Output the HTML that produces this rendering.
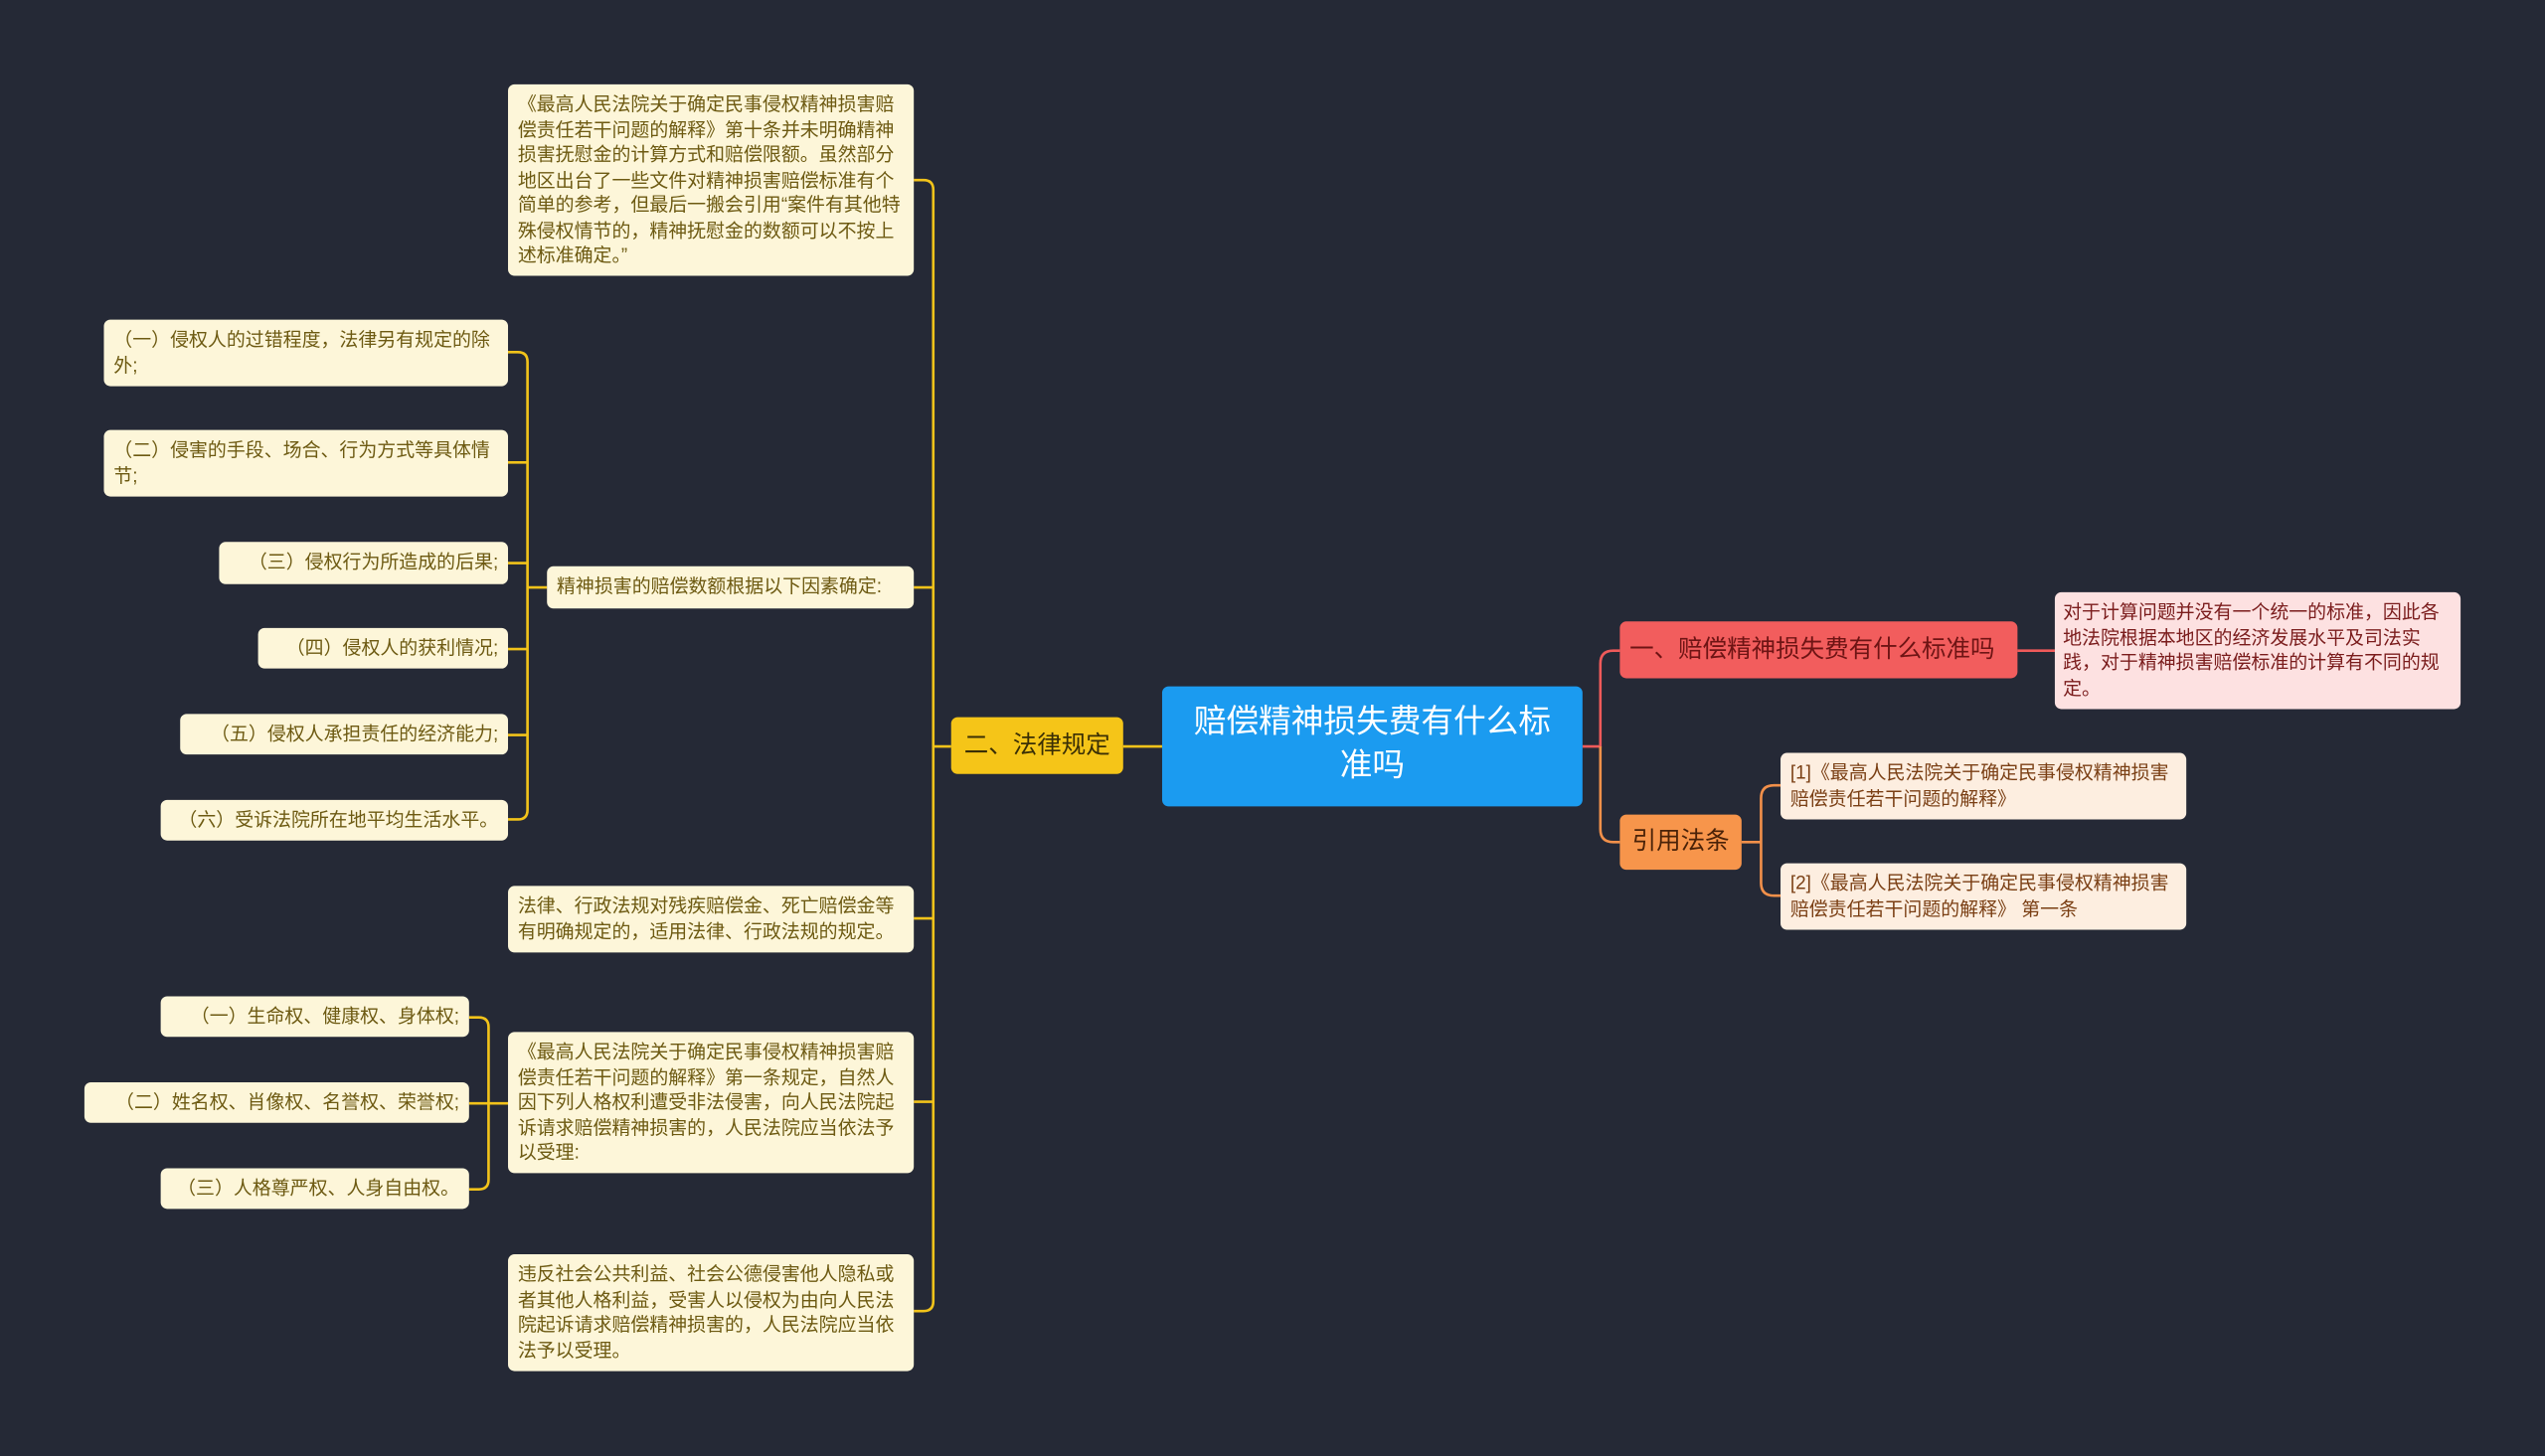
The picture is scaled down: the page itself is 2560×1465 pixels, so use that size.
<!DOCTYPE html>
<html><head><meta charset="utf-8"><style>
html,body{margin:0;padding:0;background:#252936;width:2560px;height:1464px;overflow:hidden}
#s{position:absolute;left:0;top:0;width:1568px;height:897px;transform:scale(1.63265);transform-origin:0 0;font-family:"Liberation Sans","Noto Sans CJK SC",sans-serif}
.n{position:absolute;box-sizing:border-box;border-radius:4px}
.c{background:#fdf6d9;color:#6d5a12;font-size:11.6px;line-height:15.5px;padding:5px 6px}
.c1{display:flex;align-items:center;justify-content:flex-end}
svg{position:absolute;left:0;top:0}
</style></head><body><div id="s">
<svg width="1568" height="897" fill="none" stroke-width="1.6">
<g stroke="#f2c31a">
<path d="M586 460H575"/>
<path d="M563 111H569q6 0 6 6V802q0 6-6 6H563"/>
<path d="M563 362H575M563 566H575M563 679H575"/>
<path d="M313 217h6q6 0 6 6V499q0 6-6 6h-6"/>
<path d="M313 285H325M313 347H325M313 400H325M313 453H325M325 362H337"/>
<path d="M289 627h6q6 0 6 6V727q0 6-6 6h-6"/>
<path d="M289 680H313"/>
<path d="M692 460H716"/>
</g>
<path d="M975 460H986V409q0-8 8-8H998M1243 401H1266" stroke="#f05a5a"/>
<path d="M986 460V511q0 8 8 8H998M1073 519H1085M1097 484h-4q-8 0-8 8V544q0 8 8 8h4" stroke="#f2904a"/>
</svg>
<div class="n" style="left:716px;top:423px;width:259px;height:74px;background:#1b9bf0;color:#fff;font-size:20px;line-height:27px;text-align:center;padding:9px 10px">赔偿精神损失费有什么标准吗</div>
<div class="n" style="left:998px;top:383px;width:245px;height:35px;background:#f25d5d;color:#6e1414;font-size:15px;line-height:35px;padding-left:6px">一、赔偿精神损失费有什么标准吗</div>
<div class="n" style="left:1266px;top:365px;width:250px;height:72px;background:#fde1e1;color:#7a1c1c;font-size:11.6px;line-height:15.5px;padding:5px 5px">对于计算问题并没有一个统一的标准，因此各地法院根据本地区的经济发展水平及司法实践，对于精神损害赔偿标准的计算有不同的规定。</div>
<div class="n" style="left:998px;top:502px;width:75px;height:34px;background:#f7954b;color:#4a2208;font-size:15px;line-height:34px;text-align:center">引用法条</div>
<div class="n" style="left:1097px;top:464px;width:250px;height:41px;background:#fdeee0;color:#7a3f14;font-size:11.6px;line-height:15.5px;padding:5px 6px">[1]《最高人民法院关于确定民事侵权精神损害赔偿责任若干问题的解释》</div>
<div class="n" style="left:1097px;top:532px;width:250px;height:41px;background:#fdeee0;color:#7a3f14;font-size:11.6px;line-height:15.5px;padding:5px 6px">[2]《最高人民法院关于确定民事侵权精神损害赔偿责任若干问题的解释》 第一条</div>
<div class="n" style="left:586px;top:442px;width:106px;height:35px;background:#f5c518;color:#3a2f05;font-size:15px;line-height:35px;text-align:center">二、法律规定</div>
<div class="n c" style="left:313px;top:52px;width:250px;height:118px">《最高人民法院关于确定民事侵权精神损害赔偿责任若干问题的解释》第十条并未明确精神损害抚慰金的计算方式和赔偿限额。虽然部分地区出台了一些文件对精神损害赔偿标准有个简单的参考，但最后一搬会引用“案件有其他特殊侵权情节的，精神抚慰金的数额可以不按上述标准确定。”</div>
<div class="n c" style="left:337px;top:349px;width:226px;height:26px">精神损害的赔偿数额根据以下因素确定:</div>
<div class="n c" style="left:64px;top:197px;width:249px;height:41px">（一）侵权人的过错程度，法律另有规定的除外;</div>
<div class="n c" style="left:64px;top:265px;width:249px;height:41px">（二）侵害的手段、场合、行为方式等具体情节;</div>
<div class="n c c1" style="left:135px;top:334px;width:178px;height:26px">（三）侵权行为所造成的后果;</div>
<div class="n c c1" style="left:159px;top:387px;width:154px;height:25px">（四）侵权人的获利情况;</div>
<div class="n c c1" style="left:111px;top:440px;width:202px;height:25px">（五）侵权人承担责任的经济能力;</div>
<div class="n c c1" style="left:99px;top:493px;width:214px;height:25px">（六）受诉法院所在地平均生活水平。</div>
<div class="n c" style="left:313px;top:546px;width:250px;height:41px">法律、行政法规对残疾赔偿金、死亡赔偿金等有明确规定的，适用法律、行政法规的规定。</div>
<div class="n c" style="left:313px;top:636px;width:250px;height:87px">《最高人民法院关于确定民事侵权精神损害赔偿责任若干问题的解释》第一条规定，自然人因下列人格权利遭受非法侵害，向人民法院起诉请求赔偿精神损害的，人民法院应当依法予以受理:</div>
<div class="n c c1" style="left:99px;top:614px;width:190px;height:25px">（一）生命权、健康权、身体权;</div>
<div class="n c c1" style="left:52px;top:667px;width:237px;height:25px">（二）姓名权、肖像权、名誉权、荣誉权;</div>
<div class="n c c1" style="left:99px;top:720px;width:190px;height:25px">（三）人格尊严权、人身自由权。</div>
<div class="n c" style="left:313px;top:773px;width:250px;height:72px">违反社会公共利益、社会公德侵害他人隐私或者其他人格利益，受害人以侵权为由向人民法院起诉请求赔偿精神损害的，人民法院应当依法予以受理。</div>
</div></body></html>
